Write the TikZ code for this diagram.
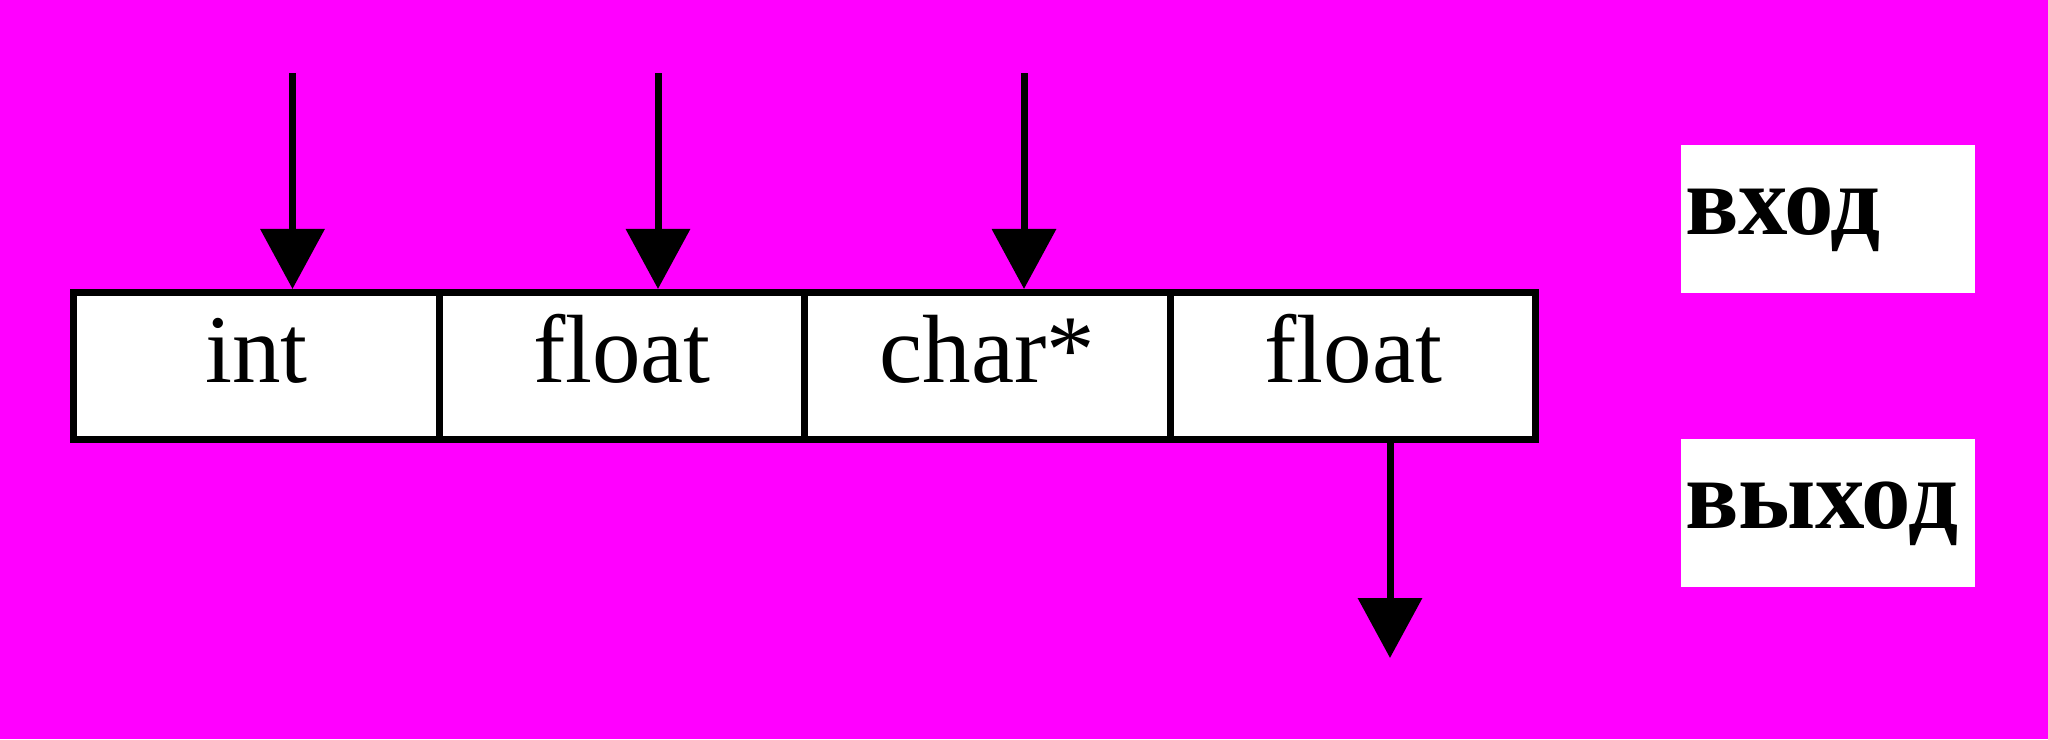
\documentclass[tikz,border=0pt]{standalone}
\usepackage{fontspec}
\setmainfont{Liberation Serif}
\newfontfamily\cellfont{Liberation Serif}
\newfontfamily\labfont{Liberation Serif Bold}
\usetikzlibrary{arrows.meta,backgrounds}
\definecolor{bgmag}{HTML}{FF00FF}
\tikzset{
  cell/.style={draw=black, line width=7pt, inner sep=0pt,
    minimum width=365.6pt, minimum height=147.5pt,
    text height=33.5pt, text depth=0pt,
    font=\cellfont\fontsize{97}{100}\selectfont},
  lab/.style={fill=white, inner xsep=4pt, inner ysep=0pt, text width=286pt,
    align=left, minimum height=148pt, text height=30pt, text depth=0pt,
    font=\labfont\fontsize{99}{100}\selectfont},
  flow/.style={line width=7pt, -{Triangle[width=63pt,length=60pt]}}
}
\begin{document}
\begin{tikzpicture}[x=1pt,y=-1pt]
\useasboundingbox (0,0) rectangle (2048,739);
\node[cell] (c1) at (256.3,366.2) {int};
\node[cell] (c2) at (621.9,366.2) {float};
\node[cell] (c3) at (987.5,366.2) {char*};
\node[cell] (c4) at (1353.1,366.2) {float};
\begin{scope}[on background layer]
\fill[bgmag] (0,0) rectangle (2048,739);
\fill[white] (c1.north west) rectangle (c4.south east);
\end{scope}
\coordinate (s1) at (292.5,73);
\coordinate (s2) at (658,73);
\coordinate (s3) at (1024,73);
\coordinate (e4) at (1390,658);
\draw[flow] (s1) -- (s1 |- c1.north);
\draw[flow] (s2) -- (s2 |- c2.north);
\draw[flow] (s3) -- (s3 |- c3.north);
\draw[flow] (e4 |- c4.south) -- (e4);
\node[lab] (in) at (1828,219) {вход};
\node[lab] (out) at (1828,513) {выход};
\end{tikzpicture}
\end{document}
